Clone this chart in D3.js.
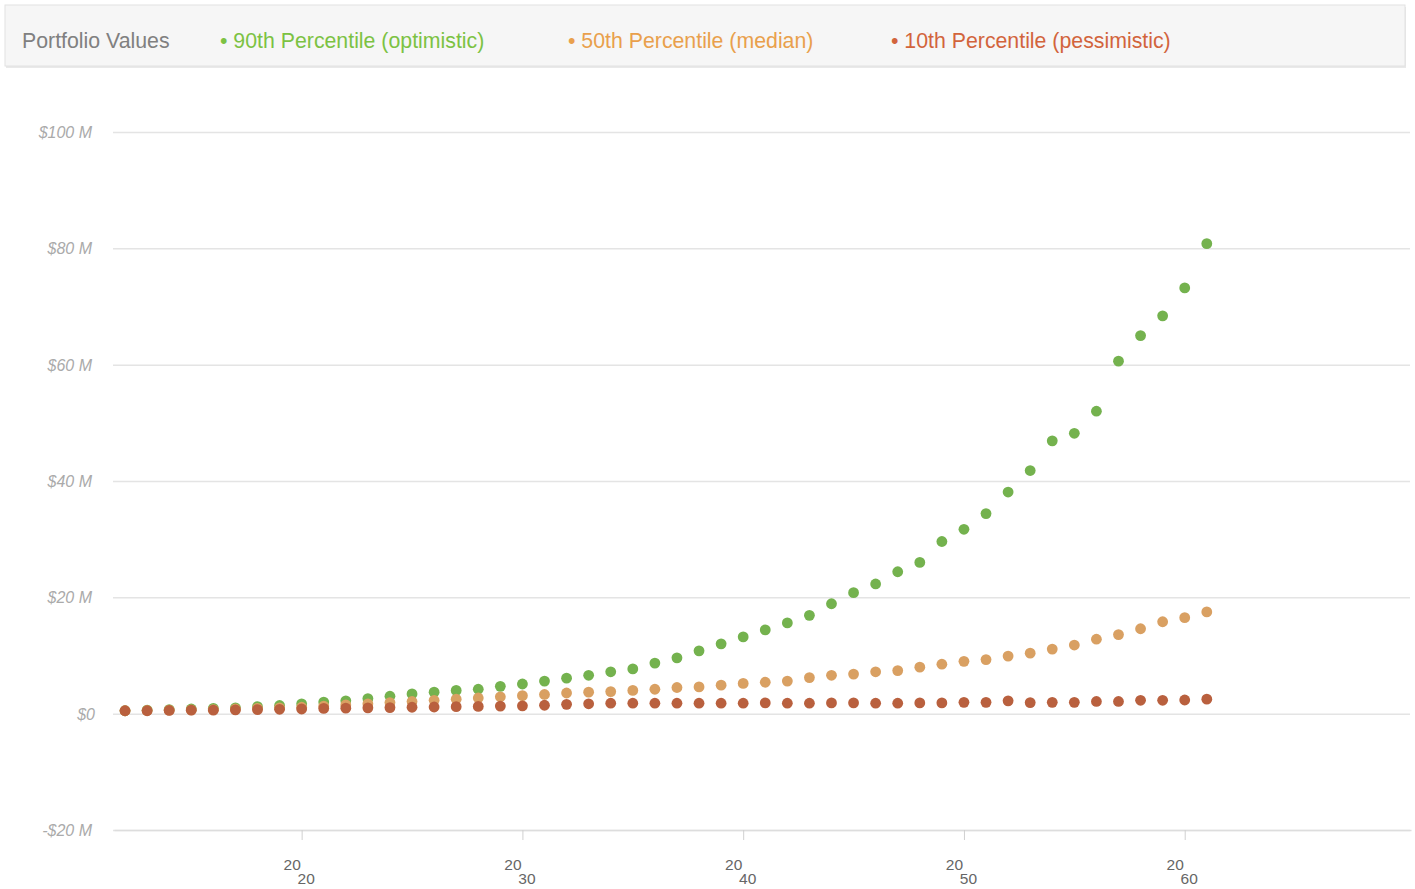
<!DOCTYPE html>
<html>
<head>
<meta charset="utf-8">
<title>Portfolio Values</title>
<script src="https://d3js.org/d3.v7.min.js"></script>
<style type="text/css">
body { margin:0; background:#fff; font-family:"Liberation Sans", Arial, sans-serif; }
</style>
</head>
<body>
<svg id="chart" width="1415" height="889"></svg>
<script>
// data, values in $ millions
var years = d3.range(2012, 2062);
var p90 = [0.5,0.6,0.7,0.8,0.9,1.0,1.2,1.4,1.7,2.0,2.2,2.6,3.0,3.4,3.7,4.0,4.2,4.7,5.1,5.6,
           6.1,6.6,7.2,7.7,8.7,9.6,10.8,12.0,13.2,14.4,15.6,16.9,18.9,20.8,22.3,24.4,26.0,29.6,31.7,34.4,
           38.1,41.8,46.9,48.2,52.0,60.6,65.0,68.4,73.2,80.8];
var p50 = [0.5,0.55,0.6,0.65,0.7,0.8,0.9,1.0,1.1,1.3,1.5,1.7,1.9,2.1,2.3,2.5,2.7,2.9,3.1,3.3,
           3.55,3.7,3.8,4.0,4.2,4.5,4.6,4.9,5.2,5.4,5.6,6.2,6.6,6.8,7.2,7.4,8.0,8.5,9.0,9.3,
           9.9,10.4,11.1,11.8,12.8,13.6,14.6,15.8,16.5,17.5];
var p10 = [0.5,0.5,0.55,0.6,0.6,0.65,0.7,0.75,0.8,0.9,0.95,1.0,1.05,1.1,1.15,1.2,1.25,1.3,1.35,1.45,
           1.6,1.7,1.8,1.8,1.8,1.8,1.8,1.8,1.8,1.85,1.8,1.8,1.85,1.85,1.8,1.8,1.85,1.85,1.95,1.95,
           2.2,1.9,1.95,1.95,2.1,2.1,2.3,2.3,2.35,2.5];
var yTicks = [-20, 0, 20, 40, 60, 80, 100];
var xTicks = [2020, 2030, 2040, 2050, 2060];
var seriesNames = ["90th Percentile (optimistic)", "50th Percentile (median)", "10th Percentile (pessimistic)"];
var legendColors = ["#7cc243", "#e9a04c", "#d2643c"];
var pointColors = ["#74b24e", "#d9a062", "#b9603e"];

var svg = d3.select("#chart");

// legend bar
svg.append("rect").attr("x", 6).attr("y", 7).attr("width", 1400).attr("height", 61)
  .attr("fill", "#e9e9e9");
svg.append("rect").attr("x", 5).attr("y", 5).attr("width", 1400).attr("height", 61)
  .attr("fill", "#f6f6f6").attr("stroke", "#e2e2e2");
svg.append("text").attr("x", 22).attr("y", 48).attr("font-size", 21.3).attr("fill", "#808080")
  .text("Portfolio Values");
var legX = [220, 568, 891];
seriesNames.forEach(function(n, i) {
  svg.append("text").attr("x", legX[i]).attr("y", 48).attr("font-size", 21.3)
    .attr("fill", legendColors[i]).text("\u2022 " + n);
});

var x = d3.scaleLinear().domain([2011.5, 2070.25]).range([114, 1411]);
var y = d3.scaleLinear().domain([-20, 100]).range([830, 132]);

// gridlines + y labels
var yAxis = svg.append("g").attr("transform", "translate(113,0)")
  .call(d3.axisLeft(y).tickValues(yTicks).tickSize(-1297).tickPadding(21)
    .tickFormat(function(d) { return d === 0 ? "$0" : (d < 0 ? "-$" + (-d) : "$" + d) + " M"; }));
yAxis.select(".domain").remove();
yAxis.selectAll("line").attr("stroke", "#e4e4e4").attr("stroke-width", 1.5);
yAxis.selectAll("text").attr("font-size", 16).attr("font-style", "italic")
  .attr("fill", "#aaaaaa").attr("font-family", "Liberation Sans, Arial, sans-serif")
  .attr("dy", "0.35em");
yAxis.selectAll(".tick").filter(function(d) { return d === 0; }).select("text").attr("dx", 3);

// x axis
var xAxis = svg.append("g").attr("transform", "translate(0,830)")
  .call(d3.axisBottom(x).tickValues(xTicks).tickSize(10).tickSizeOuter(0).tickFormat(""));
xAxis.select(".domain").attr("stroke", "#dddddd").attr("stroke-width", 1.5);
xAxis.selectAll("line").attr("stroke", "#d0d0d0");
xAxis.selectAll(".tick").each(function(d) {
  var s = String(d);
  var t = d3.select(this).append("text").attr("fill", "#666").attr("font-size", 15.5)
    .attr("font-family", "Liberation Sans, Arial, sans-serif").attr("text-anchor", "middle");
  t.append("tspan").attr("x", -10).attr("y", 40).text(s.slice(0, 2));
  t.append("tspan").attr("x", 4).attr("y", 54).text(s.slice(2));
});

// points
[p90, p50, p10].forEach(function(vals, i) {
  svg.append("g").selectAll("circle").data(vals).join("circle")
    .attr("cx", function(d, j) { return x(years[j]); })
    .attr("cy", function(d) { return y(d); })
    .attr("r", 5.4)
    .attr("fill", pointColors[i]);
});
</script>
</body>
</html>
